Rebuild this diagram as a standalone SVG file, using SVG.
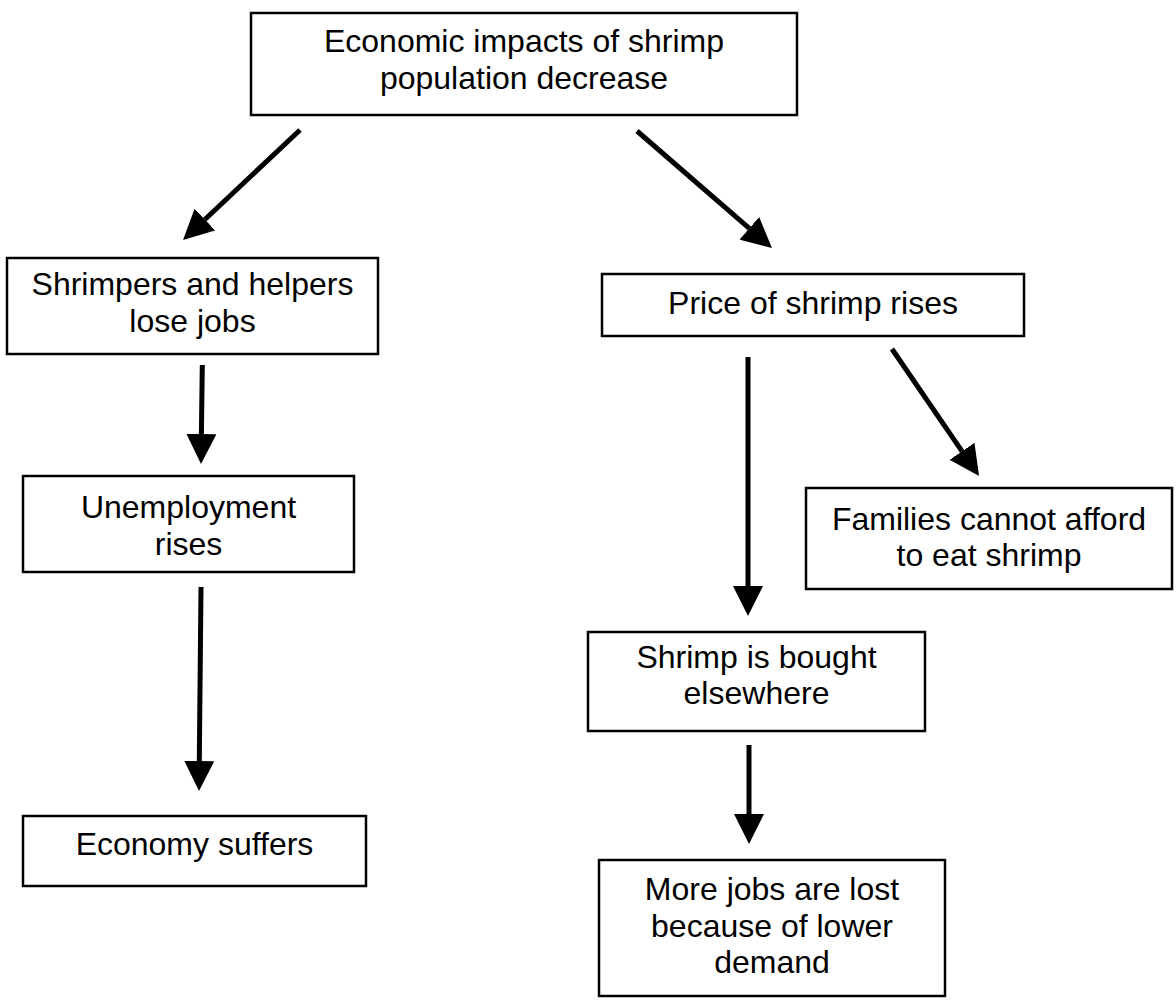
<svg xmlns="http://www.w3.org/2000/svg" width="1176" height="1004" viewBox="0 0 1176 1004">
<defs>
<style>
.box{fill:#fff;stroke:#000;stroke-width:2.5}
.t{font-family:"Liberation Sans",Arial,sans-serif;font-size:32px;fill:#000;text-anchor:middle}
.c{stroke:#000;stroke-width:5;fill:none;marker-end:url(#ah)}
</style>
<marker id="ah" viewBox="0 0 10 10" refX="0" refY="5" markerWidth="6" markerHeight="6" orient="auto" markerUnits="strokeWidth">
<path d="M0,0 L10,5 L0,10 z" fill="#000"/>
</marker>
</defs>
<rect width="1176" height="1004" fill="#fff"/>
<g id="connectors">
<line class="c" x1="300" y1="130" x2="204.9" y2="219.5"/>
<line class="c" x1="637" y1="131" x2="749.3" y2="228.3"/>
<line class="c" x1="202.3" y1="365" x2="201.4" y2="434"/>
<line class="c" x1="201" y1="587" x2="199.3" y2="761"/>
<line class="c" x1="748" y1="357" x2="748" y2="586"/>
<line class="c" x1="892" y1="349" x2="962.1" y2="451.3"/>
<line class="c" x1="749" y1="745" x2="749" y2="814"/>
</g>
<g id="n-top">
<rect class="box" x="251" y="13" width="546" height="102"/>
<text class="t" x="524" y="52">Economic impacts of shrimp</text>
<text class="t" x="524" y="89">population decrease</text>
</g>
<g id="n-shrimpers">
<rect class="box" x="7" y="258" width="371" height="96"/>
<text class="t" x="192.5" y="295">Shrimpers and helpers</text>
<text class="t" x="192.5" y="332">lose jobs</text>
</g>
<g id="n-unemployment">
<rect class="box" x="23" y="476" width="331" height="96"/>
<text class="t" x="188.5" y="518">Unemployment</text>
<text class="t" x="188.5" y="555">rises</text>
</g>
<g id="n-economy">
<rect class="box" x="23" y="816" width="343" height="70"/>
<text class="t" x="194.5" y="855">Economy suffers</text>
</g>
<g id="n-price">
<rect class="box" x="602" y="274" width="422" height="62"/>
<text class="t" x="813" y="314">Price of shrimp rises</text>
</g>
<g id="n-families">
<rect class="box" x="806" y="488" width="366" height="101"/>
<text class="t" x="989" y="530">Families cannot afford</text>
<text class="t" x="989" y="566">to eat shrimp</text>
</g>
<g id="n-elsewhere">
<rect class="box" x="588" y="632" width="337" height="99"/>
<text class="t" x="756.5" y="668">Shrimp is bought</text>
<text class="t" x="756.5" y="704">elsewhere</text>
</g>
<g id="n-jobs">
<rect class="box" x="599" y="860" width="346" height="136"/>
<text class="t" x="772" y="900">More jobs are lost</text>
<text class="t" x="772" y="937">because of lower</text>
<text class="t" x="772" y="973">demand</text>
</g>
</svg>
